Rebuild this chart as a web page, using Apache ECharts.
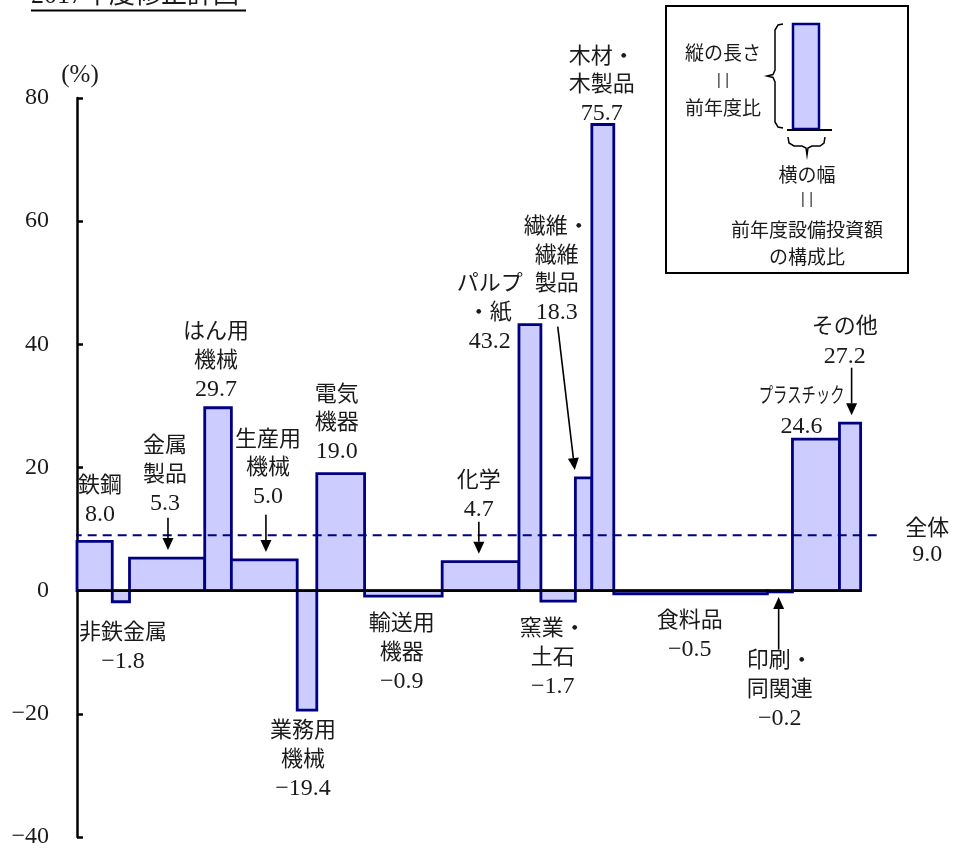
<!DOCTYPE html>
<html>
<head>
<meta charset="utf-8">
<script src="https://cdn.jsdelivr.net/npm/echarts@6/dist/echarts.min.js"></script>
<style>
  html, body { margin: 0; padding: 0; background: #fff; }
  #chart { width: 953px; height: 850px; }
</style>
</head>
<body>
<div id="chart"></div>
<script>
// 業種別 設備投資：前年度比（縦）× 前年度設備投資額の構成比（横）
const industries = [
  '鉄鋼', '非鉄金属', '金属製品', 'はん用機械', '生産用機械', '業務用機械',
  '電気機器', '輸送用機器', '化学', 'パルプ・紙', '窯業・土石', '繊維・繊維製品',
  '木材・木製品', '食料品', '印刷・同関連', 'プラスチック', 'その他'
];
// 前年度比（%）
const growthRate = [8.0, -1.8, 5.3, 29.7, 5.0, -19.4, 19.0, -0.9, 4.7, 43.2, -1.7, 18.3, 75.7, -0.5, -0.2, 24.6, 27.2];
// 前年度設備投資額の構成比（%）
const shareOfInvestment = [4.5, 2.2, 9.6, 3.4, 8.4, 2.5, 6.1, 9.9, 9.8, 2.8, 4.4, 2.1, 2.8, 19.6, 3.2, 6.0, 2.7];
// 全体の前年度比（%）
const overallRate = 9.0;
// 縦軸の目盛
const yTickValues = [-40, -20, 0, 20, 40, 60, 80];

// 業種名の改行表記
const nameLines = [
  ['鉄鋼'], ['非鉄金属'], ['金属', '製品'], ['はん用', '機械'], ['生産用', '機械'],
  ['業務用', '機械'], ['電気', '機器'], ['輸送用', '機器'], ['化学'], ['パルプ', '・紙'],
  ['窯業・', '土石'], ['繊維・', '繊維', '製品'], ['木材・', '木製品'], ['食料品'],
  ['印刷・', '同関連'], ['プラスチック'], ['その他']
];
// ラベル先頭行の中心（軸の単位）
const labelAnchor = [
  [2.93, 16.9], [5.87, -6.98], [11.22, 23.4], [17.73, 41.9], [24.36, 24.5],
  [28.83, -22.9], [33.16, 31.8], [41.45, -5.52], [51.28, 17.7], [52.68, 49.7],
  [60.71, -6.33], [61.22, 58.95], [66.96, 86.7], [78.19, -5.03], [89.67, -11.53],
  [92.47, 31.5], [97.96, 42.7]
];
const overallAnchor = [108.5, 9.9];
// 引出し矢印：根元（軸の単位）と先端の x（先端の y は値から）
const arrows = [
  { index: 2, tail: [11.61, 11.85], tipX: 11.61 },
  { index: 4, tail: [24.11, 12.34], tipX: 24.11 },
  { index: 8, tail: [51.28, 11.2], tipX: 51.28 },
  { index: 11, tail: [61.35, 42.87], tipX: 63.52 },
  { index: 14, tail: [89.54, -9.58], tipX: 89.54 },
  { index: 16, tail: [98.85, 36.2], tipX: 98.85 }
];

const X_MAX = 102.6;
const NAME_FONT = '22px "Liberation Serif", "Noto Sans CJK JP", serif';
const NUM_FONT = '24px "Liberation Serif", serif';
const LEGEND_FONT = '19px "Noto Sans CJK JP", sans-serif';
const TEXT_COLOR = '#1a1a1a';
const BAR_FILL = '#ccccff';
const BAR_EDGE = '#000080';

const fmt = v => (v < 0 ? '\u2212' + Math.abs(v).toFixed(1) : v.toFixed(1));

// 棒の左右端（構成比の累積）
let cum = 0;
const barData = growthRate.map((v, i) => {
  const x0 = cum;
  cum += shareOfInvestment[i];
  return [x0, cum, v, i];
});
const totalShare = cum;

function arrowShapes(tail, tip) {
  const dx = tip[0] - tail[0], dy = tip[1] - tail[1];
  const len = Math.sqrt(dx * dx + dy * dy);
  const ux = dx / len, uy = dy / len;
  const headLen = 12, headHalf = 5.5;
  const bx = tip[0] - ux * headLen, by = tip[1] - uy * headLen;
  return [
    { type: 'line', shape: { x1: tail[0], y1: tail[1], x2: bx, y2: by },
      style: { stroke: '#000', lineWidth: 1.6 } },
    { type: 'polygon', shape: { points: [
        [tip[0], tip[1]],
        [bx - uy * headHalf, by + ux * headHalf],
        [bx + uy * headHalf, by - ux * headHalf]
      ] }, style: { fill: '#000' } }
  ];
}

const textEl = (x, y, text, font) => ({
  type: 'text', x, y,
  style: { text, font, fill: TEXT_COLOR, align: 'center', verticalAlign: 'middle' }
});

function renderLabel(params, api) {
  const idx = api.value(2);
  const p = api.coord([api.value(0), api.value(1)]);
  const children = [];
  const lh = 28.5;
  if (idx === industries.length) {
    children.push(textEl(p[0], p[1], '全体', NAME_FONT));
    children.push(textEl(p[0], p[1] + 25, fmt(overallRate), NUM_FONT));
    return { type: 'group', children };
  }
  const names = nameLines[idx];
  const condensed = idx === 15;
  const step = condensed ? 30 : lh;
  names.forEach((t, k) => {
    const el = textEl(p[0], p[1] + k * step, t, NAME_FONT);
    if (condensed) {
      el.scaleX = 0.68;
      el.style.font = '21px "Liberation Serif", "Noto Sans CJK JP", serif';
    }
    children.push(el);
  });
  children.push(textEl(p[0], p[1] + names.length * step, fmt(growthRate[idx]), NUM_FONT));
  arrows.filter(a => a.index === idx).forEach(a => {
    const tail = api.coord(a.tail);
    const v = growthRate[idx];
    const top = api.coord([a.tipX, v]);
    const gap = v >= 0 ? -8 : 5;
    const tip = [top[0], top[1] + gap];
    arrowShapes(tail, tip).forEach(s => children.push(s));
  });
  return { type: 'group', children };
}

const labelData = labelAnchor.map((a, i) => [a[0], a[1], i]);
labelData.push([overallAnchor[0], overallAnchor[1], industries.length]);

const chart = echarts.init(document.getElementById('chart'), null, { renderer: 'canvas' });

const legendText = (x, y, text, font) => textEl(x, y, text, font || LEGEND_FONT);

chart.setOption({
  animation: false,
  backgroundColor: '#fff',
  grid: { left: 77, top: 98, width: 804, bottom: 13, containLabel: false },
  xAxis: { type: 'value', min: 0, max: X_MAX, show: false },
  yAxis: {
    type: 'value', min: yTickValues[0], max: yTickValues[yTickValues.length - 1], interval: 20,
    axisLine: { show: true, lineStyle: { color: '#000', width: 2.5 } },
    axisTick: { show: true, inside: true, length: 6, lineStyle: { color: '#000', width: 2.5 } },
    splitLine: { show: false },
    axisLabel: {
      margin: 28, color: TEXT_COLOR, fontSize: 24, fontFamily: '"Liberation Serif", serif',
      formatter: v => (v < 0 ? '\u2212' + Math.abs(v) : String(v))
    }
  },
  series: [
    {
      type: 'custom', name: '前年度比', z: 2,
      data: barData,
      encode: { x: [0, 1], y: 2 },
      renderItem: (params, api) => {
        const v = api.value(2);
        const p0 = api.coord([api.value(0), v]);
        const p1 = api.coord([api.value(1), 0]);
        return {
          type: 'rect',
          shape: { x: p0[0], y: Math.min(p0[1], p1[1]), width: p1[0] - p0[0], height: Math.abs(p1[1] - p0[1]) },
          style: { fill: BAR_FILL, stroke: BAR_EDGE, lineWidth: 2.8 }
        };
      }
    },
    {
      type: 'line', name: 'zero', z: 3, symbol: 'none', silent: true,
      data: [[0, 0], [totalShare, 0]],
      lineStyle: { color: '#000', width: 2.5 }
    },
    {
      type: 'line', name: '全体', z: 4, symbol: 'none', silent: true, clip: false,
      data: [[-0.55, overallRate], [X_MAX, overallRate]],
      lineStyle: { color: BAR_EDGE, width: 2, type: [9, 6] }
    },
    {
      type: 'custom', name: 'labels', z: 5, silent: true,
      data: labelData,
      encode: { x: 0, y: 1 },
      renderItem: renderLabel
    }
  ],
  graphic: [
    // 表題
    { type: 'text', x: 31, y: 9,
      style: { text: '2017年度修正計画', font: '26px "Liberation Serif", "Noto Sans CJK JP", serif', fill: TEXT_COLOR, align: 'left', verticalAlign: 'bottom' } },
    { type: 'line', shape: { x1: 31, y1: 10.5, x2: 246, y2: 10.5 }, style: { stroke: '#000', lineWidth: 2 } },
    // 単位
    textEl(80, 75, '(%)', '25px "Liberation Serif", serif'),
    // 凡例
    { type: 'rect', shape: { x: 666, y: 6, width: 242, height: 267 }, style: { fill: '#fff', stroke: '#000', lineWidth: 2 } },
    { type: 'rect', shape: { x: 793, y: 24, width: 26, height: 105 }, style: { fill: BAR_FILL, stroke: BAR_EDGE, lineWidth: 2.5 } },
    { type: 'line', shape: { x1: 787, y1: 130, x2: 832, y2: 130 }, style: { stroke: '#000', lineWidth: 2 } },
    { type: 'polyline', shape: { points: [[783, 24], [778, 25], [775, 30], [775, 70], [773, 74.5], [767, 76], [773, 77.5], [775, 82], [775, 122], [778, 127], [783, 128]] },
      style: { fill: null, stroke: '#000', lineWidth: 1.5 } },
    { type: 'polyline', shape: { points: [[788, 137], [789, 143], [794, 146], [802, 146], [806, 148], [807, 155], [808, 148], [812, 146], [820, 146], [824, 143], [825, 137]] },
      style: { fill: null, stroke: '#000', lineWidth: 1.5 } },
    legendText(723, 53, '縦の長さ'),
    legendText(723, 80, '||', '15px "Noto Sans", sans-serif'),
    legendText(723, 108, '前年度比'),
    legendText(807, 175, '横の幅'),
    legendText(807, 199, '||', '15px "Noto Sans", sans-serif'),
    legendText(807, 230, '前年度設備投資額'),
    legendText(807, 257, 'の構成比')
  ]
});
</script>
</body>
</html>
